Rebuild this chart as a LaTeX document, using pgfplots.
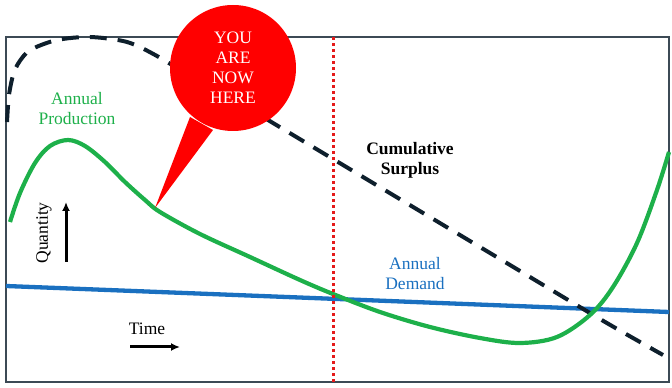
\documentclass[border=0pt]{standalone}
\usepackage{pgfplots}
\pgfplotsset{compat=1.18}
\usepackage{fontspec}
\setmainfont{Liberation Serif}
\usetikzlibrary{arrows.meta}
\definecolor{prodgreen}{HTML}{1DB04A}
\definecolor{demblue}{HTML}{1A70C0}
\definecolor{surplus}{HTML}{0E1F2C}
\definecolor{frame}{HTML}{3C4A55}
\definecolor{bubble}{HTML}{FF0000}
\definecolor{nowred}{HTML}{E41A1A}
\begin{document}
\begin{tikzpicture}
\begin{axis}[
  scale only axis, width=663pt, height=345pt,
  xmin=6, xmax=669, ymin=6, ymax=351,
  axis line style={frame, line width=1.3pt},
  xtick=\empty, ytick=\empty,
  clip=false,
]
% invisible extent of the whole picture
\path (axis cs:0,0) rectangle (axis cs:672,388);
% Annual Demand
\addplot[demblue, line width=4.3pt] coordinates {(6,102) (669,76)};
% Cumulative Surplus
\addplot[surplus, line width=4pt, dash pattern=on 17pt off 11pt, smooth, tension=0.5] coordinates {
(7,266) (9,293) (14,316) (22,330) (32,339) (57,348) (90,351) (127,346) (157,332) (200,306) (240,285) (273,265) (333,229) (393,193) (500,129) (600,69) (663,33)};
% Annual Production
\addplot[prodgreen, line width=4.2pt, smooth, tension=0.55] coordinates {
(10,166) (20,195) (35,225) (50,242) (68,248) (85,242) (105,226) (125,206) (145,188) (160,176) (200,154) (250,131) (300,108) (333,94) (380,76) (430,61) (480,50) (520,45) (557,51) (590,73) (613,101) (637,145) (657,198) (669,236)};
% now line
\draw[nowred, line width=3pt, dash pattern=on 3pt off 3pt] (axis cs:333,6) -- (axis cs:333,351);
% bubble
\fill[bubble] (axis cs:190,271) -- (axis cs:213,258) -- (axis cs:155,180) -- cycle;
\fill[bubble] (axis cs:233,320) circle[radius=63pt];
\node[white, align=center, font=\fontsize{17.5}{20}\selectfont] at (axis cs:233,320) {YOU\\ARE\\NOW\\HERE};
% labels
\node[prodgreen, align=center, font=\fontsize{17.5}{20}\selectfont] at (axis cs:77,279) {Annual\\Production};
\node[black, align=center, font=\fontsize{17.5}{20}\selectfont\bfseries] at (axis cs:410,228) {Cumulative\\Surplus};
\node[demblue, align=center, font=\fontsize{17.5}{20}\selectfont] at (axis cs:415,114) {Annual\\Demand};
\node[black, rotate=90, font=\fontsize{17.5}{20}\selectfont] at (axis cs:44,155) {Quantity};
\draw[-{Latex[length=9pt,width=8pt]}, line width=3pt] (axis cs:66,126) -- (axis cs:66,186);
\node[black, font=\fontsize{17.5}{20}\selectfont] at (axis cs:147,59) {Time};
\draw[-{Latex[length=9pt,width=8pt]}, line width=3pt] (axis cs:130,41) -- (axis cs:180,41);
\end{axis}
\end{tikzpicture}
\end{document}
